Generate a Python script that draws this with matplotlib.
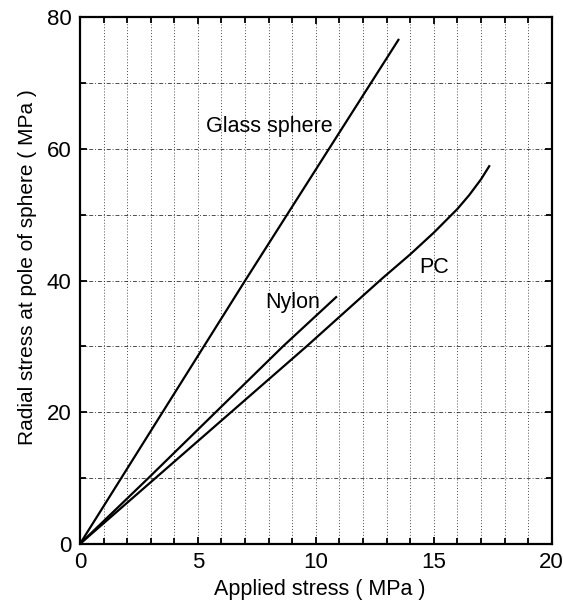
import matplotlib.pyplot as plt
import numpy as np
from matplotlib.ticker import MultipleLocator

plt.rcParams['font.family'] = ['Liberation Sans', 'DejaVu Sans']

# 곡선 데이터
glass_x = [0, 3.5, 7.0, 10.55, 13.5]
glass_y = [0, 20, 40, 60, 76.6]

nylon_x = [0, 2.9, 5.75, 8.6, 10.86]
nylon_y = [0, 10, 20, 30, 37.5]

pc_x = [0, 3.2, 6.4, 9.6, 12.8, 14.0, 15.0, 16.0, 16.5, 17.0, 17.35]
pc_y = [0, 10, 20, 30, 40.3, 44.0, 47.3, 50.9, 53.0, 55.4, 57.4]

labels = ['Glass sphere', 'Nylon', 'PC']
label_pos = [(5.35, 63.5), (7.85, 36.7), (14.4, 42.0)]

fig = plt.figure(figsize=(5.63, 6.03), dpi=100)
ax = fig.add_axes([0.142, 0.098, 0.838, 0.873])

ax.plot(glass_x, glass_y, color='black', lw=1.6)
ax.plot(nylon_x, nylon_y, color='black', lw=1.6)
ax.plot(pc_x, pc_y, color='black', lw=1.6)

for txt, (tx, ty) in zip(labels, label_pos):
    ax.text(tx, ty, txt, fontsize=15.5, ha='left', va='center')

ax.set_xlim(0, 20)
ax.set_ylim(0, 80)
ax.xaxis.set_major_locator(MultipleLocator(5))
ax.xaxis.set_minor_locator(MultipleLocator(1))
ax.yaxis.set_major_locator(MultipleLocator(20))
ax.yaxis.set_minor_locator(MultipleLocator(10))

# 격자선 (점선)
ax.grid(True, which='both', axis='x', ls=(0, (1, 2)), color='black', lw=0.7, alpha=0.7)
ax.grid(True, which='both', axis='y', ls=(0, (4, 2, 1, 2)), color='black', lw=0.7, alpha=0.7)

ax.tick_params(which='both', direction='in', top=True, right=True, labelsize=16, width=1.3)
ax.tick_params(which='major', length=5, pad=6)
ax.tick_params(which='minor', length=4)
for s in ax.spines.values():
    s.set_linewidth(1.6)

ax.set_xlabel('Applied stress ( MPa )', fontsize=15.5)
ax.set_ylabel('Radial stress at pole of sphere ( MPa )', fontsize=15)
ax.xaxis.set_label_coords(0.508, -0.066)
ax.yaxis.set_label_coords(-0.09, 0.526)

plt.savefig('out.png', dpi=100)
